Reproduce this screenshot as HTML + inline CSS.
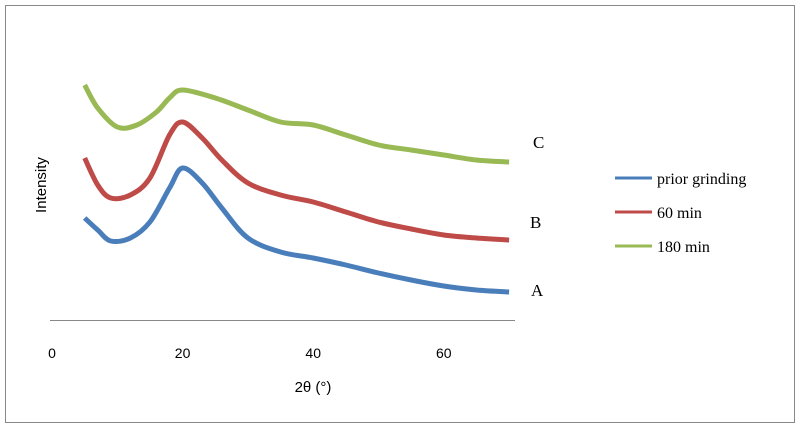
<!DOCTYPE html>
<html><head><meta charset="utf-8"><style>
body{margin:0;background:#fff}
svg{display:block}
</style></head><body>
<svg id="chart" width="800" height="429" xmlns="http://www.w3.org/2000/svg">
<rect x="5.5" y="5.5" width="789" height="417" fill="#fff" stroke="#888" stroke-width="1"/>
<line x1="50" y1="320.5" x2="515" y2="320.5" stroke="#888" stroke-width="1"/>
<g id="ticks" font-family="Liberation Sans, sans-serif" font-size="14" fill="#000" text-anchor="middle"></g>
<text x="313" y="392" font-family="Liberation Sans, sans-serif" font-size="15" text-anchor="middle">2θ (°)</text>
<text transform="translate(46,185) rotate(-90)" font-family="Liberation Sans, sans-serif" font-size="15" text-anchor="middle">Intensity</text>
<g id="series"></g>
<text x="533" y="148" font-family="Liberation Serif, serif" font-size="17">C</text>
<text x="530" y="228" font-family="Liberation Serif, serif" font-size="17">B</text>
<text x="531" y="296" font-family="Liberation Serif, serif" font-size="17">A</text>
<g font-family="Liberation Serif, serif" font-size="16">
<g><line x1="615" y1="178" x2="652" y2="178" stroke="#4a7ebb" stroke-width="3"/><text x="657" y="184">prior grinding</text></g>
<g><line x1="615" y1="212" x2="652" y2="212" stroke="#be4b48" stroke-width="3"/><text x="657" y="218">60 min</text></g>
<g><line x1="615" y1="246" x2="652" y2="246" stroke="#98b954" stroke-width="3"/><text x="657" y="252">180 min</text></g>
</g>
</svg>
<script>
const xTicks=[0,20,40,60];
const xs=[5,7,9,12,15,18,20,23,26,30,35,40,45,50,55,60,65,70];
const seriesA=[102,90,79,82,98,132,152,137,112,82,68,62,55,47,40,34,30,28];
const seriesB=[162,135,122,125,142,185,198,182,160,137,125,118,108,98,91,85,82,80];
const xsC=[5,7,10,13,16,18,20,25,30,35,40,45,50,55,60,65,70];
const seriesC=[235,212,193,195,208,222,230,222,210,198,195,185,175,170,165,160,158];
const X=v=>52+v*6.53;
const Y=v=>320-v;
const svg=document.getElementById('chart');
const tg=document.getElementById('ticks');
xTicks.forEach(t=>{
 const el=document.createElementNS('http://www.w3.org/2000/svg','text');
 
 
 el.setAttribute('x',X(t));el.setAttribute('y',358);el.textContent=t;tg.appendChild(el);
});
const sg=document.getElementById('series');
function draw(xv,yv,color,name){
 const P=xv.map((x,i)=>[X(x),Y(yv[i])]);
 let d='M'+P[0][0].toFixed(1)+','+P[0][1].toFixed(1);
 for(let i=0;i<P.length-1;i++){
  const p0=P[Math.max(0,i-1)],p1=P[i],p2=P[i+1],p3=P[Math.min(P.length-1,i+2)];
  const c1=[p1[0]+(p2[0]-p0[0])/6,p1[1]+(p2[1]-p0[1])/6];
  const c2=[p2[0]-(p3[0]-p1[0])/6,p2[1]-(p3[1]-p1[1])/6];
  d+=' C'+c1.map(v=>v.toFixed(1)).join(',')+' '+c2.map(v=>v.toFixed(1)).join(',')+' '+p2.map(v=>v.toFixed(1)).join(',');
 }
 const p=document.createElementNS('http://www.w3.org/2000/svg','path');
 
 
 p.setAttribute('d',d);p.setAttribute('fill','none');p.setAttribute('stroke',color);
 p.setAttribute('stroke-width','5');p.setAttribute('stroke-linejoin','round');
 sg.appendChild(p);
}
draw(xs,seriesA,'#4a7ebb','series-prior-grinding');
draw(xs,seriesB,'#be4b48','series-60-min');
draw(xsC,seriesC,'#98b954','series-180-min');
</script>
</body></html>
